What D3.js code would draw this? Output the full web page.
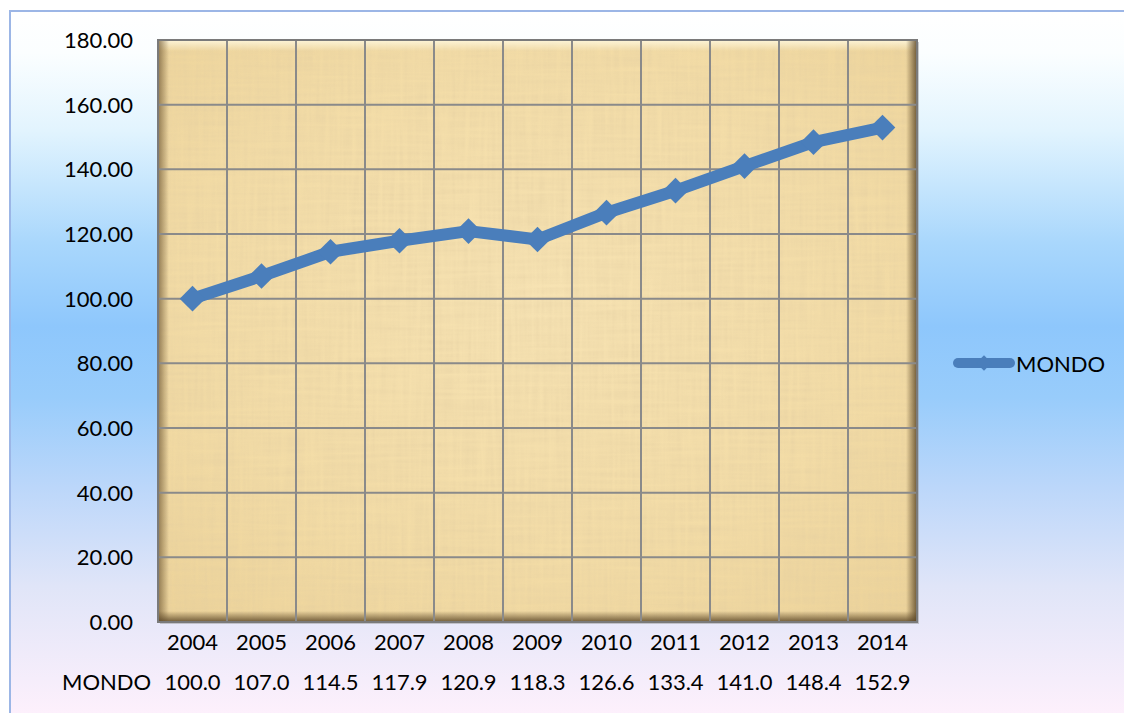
<!DOCTYPE html>
<html>
<head>
<meta charset="utf-8">
<script src="https://cdn.jsdelivr.net/npm/d3@7"></script>
<style>
  body { margin: 0; background: #fff; }
  text { font-family: Lato, "Open Sans", sans-serif; fill: #000; }
</style>
</head>
<body>
<script>
// data
var years = ["2004","2005","2006","2007","2008","2009","2010","2011","2012","2013","2014"];
var mondo = [100.0, 107.0, 114.5, 117.9, 120.9, 118.3, 126.6, 133.4, 141.0, 148.4, 152.9];
var yTicks = [0, 20, 40, 60, 80, 100, 120, 140, 160, 180];
var seriesName = "MONDO";

var W = 1124, H = 713;
var plot = {left: 158, top: 40, right: 917, bottom: 622};

var svg = d3.select("body").append("svg")
    .attr("width", W).attr("height", H);
var defs = svg.append("defs");

// chart area background
var bg = defs.append("linearGradient").attr("id", "bg")
    .attr("gradientUnits", "userSpaceOnUse")
    .attr("x1", 0).attr("y1", 11).attr("x2", 0).attr("y2", 713);
[[0, "#ffffff"], [0.06, "#fbfeff"], [0.17, "#e2f4fe"], [0.33, "#a9d7fc"],
 [0.45, "#8ec7fc"], [0.55, "#98ccfb"], [0.68, "#bcd7fa"], [0.82, "#e0e5f8"], [1, "#fdf0fc"]]
  .forEach(function(s) { bg.append("stop").attr("offset", s[0]).attr("stop-color", s[1]); });

// papyrus like base
var pb = defs.append("radialGradient").attr("id", "pbase")
    .attr("cx", 0.5).attr("cy", 0.45).attr("r", 0.75);
pb.append("stop").attr("offset", 0).attr("stop-color", "#f7e3b3");
pb.append("stop").attr("offset", 0.6).attr("stop-color", "#f3dca6");
pb.append("stop").attr("offset", 1).attr("stop-color", "#ecd298");

var f = defs.append("filter").attr("id", "fib")
    .attr("x", 0).attr("y", 0).attr("width", 1).attr("height", 1);
f.append("feTurbulence").attr("type", "fractalNoise")
    .attr("baseFrequency", "0.25 0.012").attr("numOctaves", 2).attr("seed", 4).attr("result", "v");
f.append("feTurbulence").attr("type", "fractalNoise")
    .attr("baseFrequency", "0.012 0.25").attr("numOctaves", 2).attr("seed", 9).attr("result", "h");
f.append("feBlend").attr("mode", "multiply").attr("in", "v").attr("in2", "h").attr("result", "m");
f.append("feColorMatrix").attr("in", "m").attr("type", "matrix")
    .attr("values", "0 0 0 0 0.75  0 0 0 0 0.6  0 0 0 0 0.35  2.0 0 0 0 -0.42");

function edgeGrad(id, x1, y1, x2, y2, c, o) {
  var g = defs.append("linearGradient").attr("id", id)
      .attr("x1", x1).attr("y1", y1).attr("x2", x2).attr("y2", y2);
  g.append("stop").attr("offset", 0).attr("stop-color", c).attr("stop-opacity", o);
  g.append("stop").attr("offset", 1).attr("stop-color", c).attr("stop-opacity", 0);
}
edgeGrad("eL", 0, 0, 1, 0, "#6b5430", 0.7);
edgeGrad("eT", 0, 0, 0, 1, "#fff8de", 0.9);
edgeGrad("eR", 1, 0, 0, 0, "#5a4525", 0.85);
edgeGrad("eB", 0, 1, 0, 0, "#5a4525", 0.85);

svg.append("rect").attr("x", 10).attr("y", 11).attr("width", 1300).attr("height", 900)
    .attr("fill", "url(#bg)").attr("stroke", "#9cb6e6").attr("stroke-width", 2);

// scales
var x = d3.scaleBand().domain(years).range([plot.left, plot.right]);
var y = d3.scaleLinear().domain([0, 180]).range([plot.bottom, plot.top]);
var pw = plot.right - plot.left, ph = plot.bottom - plot.top;

// plot area
var pa = svg.append("g");
pa.append("rect").attr("x", plot.left + 2).attr("y", plot.top + 2).attr("width", pw).attr("height", ph)
    .attr("fill", "#9a9a9a").attr("opacity", 0.5);
pa.append("rect").attr("x", plot.left).attr("y", plot.top).attr("width", pw).attr("height", ph)
    .attr("fill", "url(#pbase)");
pa.append("rect").attr("x", plot.left).attr("y", plot.top).attr("width", pw).attr("height", ph)
    .attr("fill", "#fff").attr("filter", "url(#fib)").attr("opacity", 0.4);
var bw = 11;
pa.append("rect").attr("x", plot.left).attr("y", plot.top).attr("width", pw).attr("height", bw).attr("fill", "url(#eT)");
pa.append("rect").attr("x", plot.left).attr("y", plot.top).attr("width", bw).attr("height", ph).attr("fill", "url(#eL)");
pa.append("rect").attr("x", plot.right - bw).attr("y", plot.top).attr("width", bw).attr("height", ph).attr("fill", "url(#eR)");
pa.append("rect").attr("x", plot.left).attr("y", plot.bottom - bw).attr("width", pw).attr("height", bw).attr("fill", "url(#eB)");

// grid
var grid = svg.append("g").attr("stroke", "#8a8a8a").attr("stroke-width", 2);
grid.selectAll(".hg").data(yTicks).join("line")
    .attr("x1", plot.left).attr("x2", plot.right)
    .attr("y1", function(d) { return y(d); }).attr("y2", function(d) { return y(d); });
grid.selectAll(".vg").data(years).join("line")
    .attr("x1", function(d) { return x(d); }).attr("x2", function(d) { return x(d); })
    .attr("y1", plot.top).attr("y2", plot.bottom);
svg.append("rect").attr("x", plot.left).attr("y", plot.top).attr("width", pw).attr("height", ph)
    .attr("fill", "none").attr("stroke", "#7a7a7a").attr("stroke-width", 2);

// y axis labels
svg.append("g").selectAll("text").data(yTicks).join("text")
    .attr("x", 133).attr("y", function(d) { return y(d); }).attr("dy", "0.36em")
    .attr("text-anchor", "end").attr("font-size", 22)
    .text(function(d) { return d3.format(".2f")(d); });

// x labels and data table
var cx = function(d) { return x(d) + x.bandwidth() / 2; };
svg.append("g").selectAll("text").data(years).join("text")
    .attr("x", cx).attr("y", 650).attr("text-anchor", "middle").attr("font-size", 22)
    .text(function(d) { return d; });
svg.append("g").selectAll("text").data(mondo).join("text")
    .attr("x", function(d, i) { return cx(years[i]); }).attr("y", 690)
    .attr("text-anchor", "middle").attr("font-size", 22)
    .text(function(d) { return d3.format(".1f")(d); });
svg.append("text").attr("x", 62).attr("y", 690).attr("font-size", 22).text(seriesName);

// line
var blue = "#4a7ebb";
var line = d3.line().x(function(d, i) { return cx(years[i]); }).y(function(d) { return y(d); });
svg.append("path").datum(mondo).attr("d", line)
    .attr("fill", "none").attr("stroke", blue).attr("stroke-width", 12)
    .attr("stroke-linejoin", "round").attr("stroke-linecap", "round");
var diamond = d3.symbol().type(d3.symbolDiamond2).size(420);
svg.append("g").selectAll("path").data(mondo).join("path")
    .attr("transform", function(d, i) { return "translate(" + cx(years[i]) + "," + y(d) + ")"; })
    .attr("d", diamond).attr("fill", blue);

// legend
var lg = svg.append("g");
lg.append("line").attr("x1", 958).attr("x2", 1010).attr("y1", 363).attr("y2", 363)
    .attr("stroke", blue).attr("stroke-width", 10).attr("stroke-linecap", "round");
lg.append("path").attr("transform", "translate(984,363)")
    .attr("d", d3.symbol().type(d3.symbolDiamond2).size(150)).attr("fill", blue);
lg.append("text").attr("x", 1016).attr("y", 372).attr("font-size", 22).text(seriesName);
</script>
</body>
</html>
